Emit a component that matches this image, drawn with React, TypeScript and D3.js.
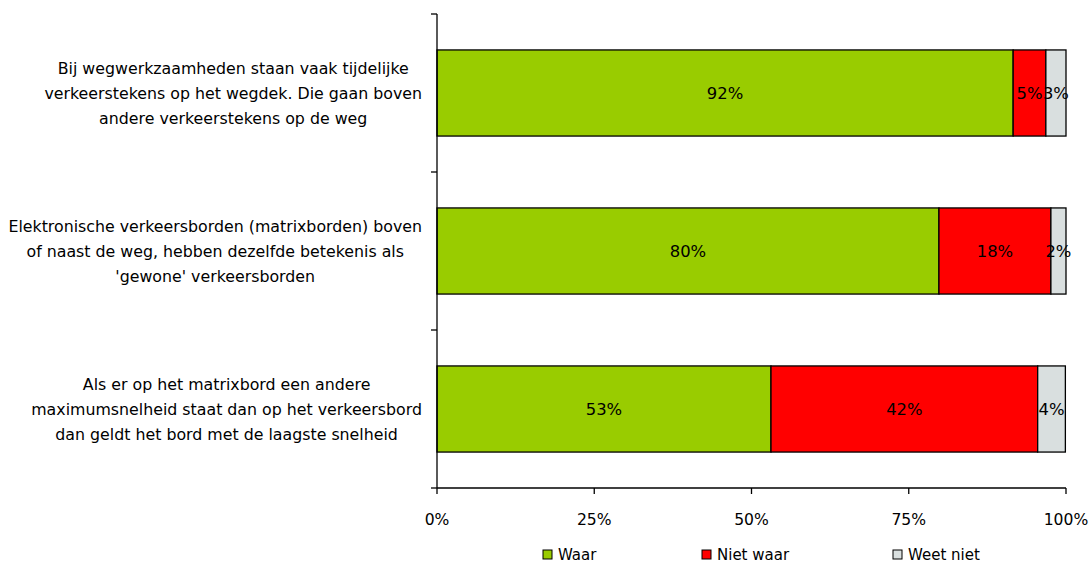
import React, { useEffect, useRef } from "react";
import * as d3 from "d3";

const categories: string[][] = [
  ["Bij wegwerkzaamheden staan vaak tijdelijke", "verkeerstekens op het wegdek. Die gaan boven", "andere verkeerstekens op de weg"],
  ["Elektronische verkeersborden (matrixborden) boven", "of naast de weg, hebben dezelfde betekenis als", "'gewone' verkeersborden"],
  ["Als er op het matrixbord een andere", "maximumsnelheid staat dan op het verkeersbord", "dan geldt het bord met de laagste snelheid"],
];
const seriesNames = ["Waar", "Niet waar", "Weet niet"];
const waar = [91.6, 79.8, 53.1];
const nietWaar = [5.2, 17.8, 42.4];
const weetNiet = [3.2, 2.4, 4.4];
const tickValues = [0, 25, 50, 75, 100];
const colors = ["#99cc00", "#ff0000", "#d9dfdf"];

const FONT = "'DejaVu Sans', Verdana, sans-serif";

export default function App() {
  const ref = useRef<SVGSVGElement | null>(null);
  useEffect(() => {
    const svg = d3.select(ref.current);
    svg.selectAll("*").remove();
    const left = 437, right = 1066, top = 14, bottom = 488;
    const x = d3.scaleLinear().domain([0, 100]).range([left, right]);
    const y = d3.scaleBand().domain(["0", "1", "2"]).range([top, bottom]).paddingInner(0.455).paddingOuter(0.2275);
    const values = [waar, nietWaar, weetNiet];
    const stackData = categories.map((_, i) => ({ key: String(i), s0: waar[i], s1: nietWaar[i], s2: weetNiet[i] }));
    const stacked = d3.stack<any>().keys(["s0", "s1", "s2"])(stackData);

    const g = svg.append("g");
    stacked.forEach((layer, si) => {
      layer.forEach((d: any, i) => {
        const x0 = x(d[0]), x1 = x(d[1]);
        g.append("rect")
          .attr("x", x0).attr("y", y(String(i))!)
          .attr("width", x1 - x0).attr("height", y.bandwidth())
          .attr("fill", colors[si]).attr("stroke", "#000").attr("stroke-width", 1.3);
      });
    });
    stacked.forEach((layer, si) => {
      layer.forEach((d: any, i) => {
        g.append("text")
          .attr("x", (x(d[0]) + x(d[1])) / 2)
          .attr("y", y(String(i))! + y.bandwidth() / 2)
          .attr("dy", "0.35em")
          .attr("text-anchor", "middle")
          .attr("font-family", FONT).attr("font-size", 16.4).attr("fill", "#000")
          .text(Math.round(values[si][i]) + "%");
      });
    });

    // axes
    const axisG = svg.append("g").attr("stroke", "#000").attr("stroke-width", 1.3);
    axisG.append("line").attr("x1", left).attr("x2", left).attr("y1", top).attr("y2", bottom);
    axisG.append("line").attr("x1", left).attr("x2", right).attr("y1", bottom).attr("y2", bottom);
    const bandTicks = [top, ...categories.map((_, i) => y(String(i))! + y.bandwidth() / 2 + y.step() / 2)];
    bandTicks.forEach((t) => axisG.append("line").attr("x1", left - 6).attr("x2", left).attr("y1", t).attr("y2", t));
    tickValues.forEach((v) => {
      axisG.append("line").attr("x1", x(v)).attr("x2", x(v)).attr("y1", bottom).attr("y2", bottom + 6);
      svg.append("text").attr("x", x(v)).attr("y", 525).attr("text-anchor", "middle")
        .attr("font-family", FONT).attr("font-size", 15.6).text(v + "%");
    });

    // category labels
    categories.forEach((lines, i) => {
      const cy = y(String(i))! + y.bandwidth() / 2;
      const tg = svg.append("g");
      const texts = lines.map((l, li) =>
        tg.append("text").attr("y", cy + (li - 1) * 25).attr("dy", "0.35em")
          .attr("text-anchor", "middle").attr("font-family", FONT).attr("font-size", 15.8).text(l)
      );
      const maxW = d3.max(texts, (t) => (t.node() as SVGTextElement).getComputedTextLength()) || 0;
      texts.forEach((t) => t.attr("x", 422 - maxW / 2));
    });

    // legend
    const legendX = [543, 702, 893];
    seriesNames.forEach((n, i) => {
      svg.append("rect").attr("x", legendX[i]).attr("y", 550).attr("width", 9).attr("height", 9)
        .attr("fill", colors[i]).attr("stroke", "#000").attr("stroke-width", 1);
      svg.append("text").attr("x", legendX[i] + 15).attr("y", 555).attr("dy", "0.35em")
        .attr("font-family", FONT).attr("font-size", 15).text(n);
    });
  }, []);
  return (
    <svg ref={ref} width={1091} height={567} style={{ position: "absolute", left: 0, top: 0, background: "#fff" }} />
  );
}
